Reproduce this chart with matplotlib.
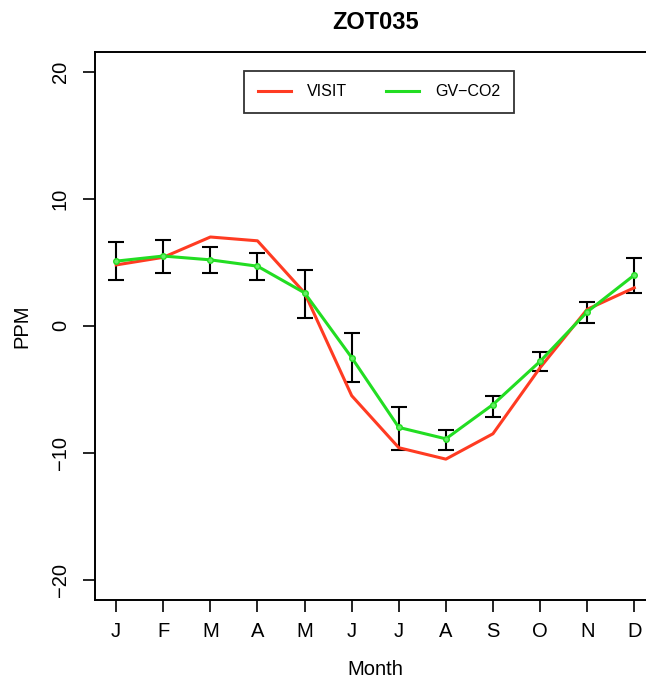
import numpy as np
import matplotlib.pyplot as plt

plt.rcParams['font.family'] = ['Liberation Sans', 'DejaVu Sans']

months = ['J', 'F', 'M', 'A', 'M', 'J', 'J', 'A', 'S', 'O', 'N', 'D']
visit = [4.8, 5.4, 7.0, 6.7, 2.6, -5.5, -9.6, -10.5, -8.5, -3.3, 1.3, 3.0]
gvco2 = [5.1, 5.5, 5.2, 4.7, 2.6, -2.5, -8.0, -8.9, -6.2, -2.8, 1.1, 4.0]
err_mid = [5.1, 5.5, 5.2, 4.7, 2.5, -2.5, -8.1, -9.0, -6.35, -2.8, 1.05, 3.95]
err_half = [1.5, 1.3, 1.0, 1.05, 1.9, 1.9, 1.7, 0.8, 0.8, 0.77, 0.8, 1.38]

x = np.arange(1, 13)

fig = plt.figure(figsize=(6.46, 6.8), dpi=100)
ax = fig.add_axes([0.1478, 0.1176, 1.0139 - 0.1478, 0.924 - 0.1176])

ax.errorbar(x, err_mid, yerr=err_half, fmt='none', ecolor='black',
            elinewidth=1.5, capsize=5.5, capthick=1.5, zorder=2)
ax.plot(x, visit, color='#FF3B22', lw=2.2, label='VISIT', zorder=3)
ax.plot(x, gvco2, color='#22DD22', lw=2.2, marker='o', ms=4,
        mfc='#66EE66', mec='#22DD22', label='GV\u2212CO2', zorder=4)

ax.set_xlim(0.56, 12.44)
ax.set_ylim(-21.6, 21.6)
ax.set_xticks(x)
ax.set_xticklabels(months)
ax.set_yticks([-20, -10, 0, 10, 20])
ax.set_yticklabels(['\u221220', '\u221210', '0', '10', '20'], rotation=90, va='center')
ax.tick_params(direction='out', length=8.5, width=1.2, labelsize=14.5, pad=7)
ax.tick_params(axis='y', pad=10)

for s in ax.spines.values():
    s.set_linewidth(1.4)

ax.set_title('ZOT035', fontsize=17, fontweight='bold', pad=16)
ax.set_xlabel('Month', fontsize=14.5, labelpad=14)
ax.set_ylabel('PPM', fontsize=14.5, labelpad=14)

leg = ax.legend(loc='upper center', bbox_to_anchor=(0.507, 0.965), ncol=2,
                fontsize=11.5, frameon=True, fancybox=False, edgecolor='black',
                handlelength=2.1, handletextpad=1.0, columnspacing=2.4,
                borderpad=0.85, borderaxespad=0)
leg.get_frame().set_linewidth(1.3)
for h in leg.legend_handles:
    h.set_marker('')

fig.savefig('out.png', dpi=100)
